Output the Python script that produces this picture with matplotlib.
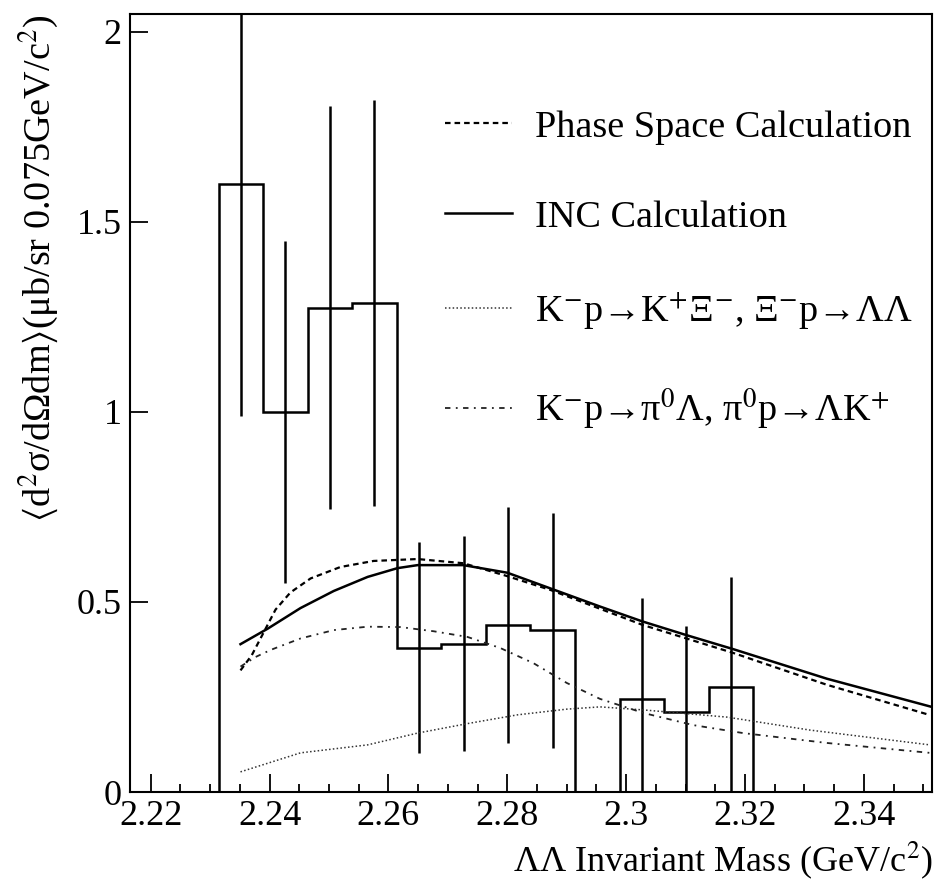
import matplotlib
matplotlib.use("Agg")
import matplotlib.pyplot as plt
from matplotlib.ticker import MultipleLocator, FuncFormatter

plt.rcParams['font.family'] = ['Liberation Serif', 'DejaVu Serif']
plt.rcParams['mathtext.fontset'] = 'stix'

# histogram bins (GeV/c^2), 0.0075 wide, zero below LL threshold
bin_edges = [2.2164, 2.2239, 2.2314, 2.2389, 2.2464, 2.2539, 2.2614, 2.2689,
             2.2764, 2.2839, 2.2914, 2.2989, 2.3064, 2.3139, 2.3214, 2.3289,
             2.3364, 2.3439, 2.3514]
bin_vals = [0, 0, 1.60, 1.00, 1.274, 1.287, 0.38, 0.39, 0.44, 0.425, 0,
            0.245, 0.21, 0.277, 0, 0, 0, 0]

# error bars
err_x = [2.23515, 2.24265, 2.25015, 2.25765, 2.26515, 2.27265, 2.28015,
         2.28765, 2.30265, 2.31015, 2.31765]
err_y = [1.60, 1.00, 1.274, 1.287, 0.38, 0.39, 0.44, 0.425, 0.245, 0.21, 0.277]
err_e = [0.61, 0.45, 0.53, 0.535, 0.277, 0.283, 0.31, 0.31, 0.265, 0.227, 0.29]

# INC calculation
inc_x = [2.2351, 2.2397, 2.2452, 2.2508, 2.2565, 2.2615, 2.2649, 2.2726,
         2.2800, 2.2872, 2.2956, 2.3027, 2.3101, 2.3180, 2.3338, 2.3514]
inc_y = [0.389, 0.430, 0.484, 0.529, 0.566, 0.589, 0.597, 0.597,
         0.577, 0.536, 0.488, 0.449, 0.413, 0.376, 0.298, 0.224]

# phase space calculation
ps_x = [2.2351, 2.2370, 2.2390, 2.2410, 2.2435, 2.2469, 2.2519, 2.2575,
        2.2649, 2.2726, 2.2800, 2.2872, 2.3027, 2.3180, 2.3338, 2.3510]
ps_y = [0.320, 0.360, 0.420, 0.480, 0.525, 0.562, 0.592, 0.608,
        0.613, 0.602, 0.568, 0.532, 0.440, 0.366, 0.282, 0.203]

# K-p -> K+ Xi-, Xi- p -> LL
xi_x = [2.2351, 2.2452, 2.2565, 2.2649, 2.2733, 2.2817, 2.2900, 2.2956,
        2.3029, 2.3170, 2.3309, 2.3511]
xi_y = [0.053, 0.103, 0.124, 0.155, 0.180, 0.203, 0.218, 0.224,
        0.216, 0.197, 0.163, 0.124]

# K-p -> pi0 L, pi0 p -> L K+
pi_x = [2.2351, 2.2376, 2.2402, 2.2452, 2.2508, 2.2565, 2.2620, 2.2676,
        2.2733, 2.2788, 2.2844, 2.2900, 2.2956, 2.3029, 2.3113, 2.3197,
        2.3338, 2.3511]
pi_y = [0.330, 0.355, 0.374, 0.404, 0.426, 0.435, 0.434, 0.423,
        0.408, 0.379, 0.339, 0.287, 0.245, 0.208, 0.176, 0.155,
        0.129, 0.103]

fig = plt.figure(figsize=(9.35, 8.8), dpi=100)
ax = fig.add_axes([0.139, 0.1, 0.858, 0.884])

ax.stairs(bin_vals, bin_edges, baseline=0, color='black', lw=1.8)
ax.errorbar(err_x, err_y, yerr=err_e, fmt='none', ecolor='black',
            elinewidth=1.8, capsize=0)

ax.plot(ps_x, ps_y, color='black', lw=1.6, linestyle=(0, (2.5, 1.8)),
        label='Phase Space Calculation')
ax.plot(inc_x, inc_y, color='black', lw=1.8, label='INC Calculation')
ax.plot(xi_x, xi_y, color='#333333', lw=1.1, linestyle=(0, (1, 1.5)),
        label='K$^{-}$p→K$^{+}$Ξ$^{-}$, Ξ$^{-}$p→ΛΛ')
ax.plot(pi_x, pi_y, color='#222222', lw=1.3, linestyle=(0, (3, 3, 1, 3)),
        label='K$^{-}$p→π$^{0}$Λ, π$^{0}$p→ΛK$^{+}$')

ax.set_xlim(2.2165, 2.3515)
ax.set_ylim(0, 2.047)

ax.xaxis.set_major_locator(MultipleLocator(0.02))
ax.xaxis.set_minor_locator(MultipleLocator(0.005))
ax.yaxis.set_major_locator(MultipleLocator(0.5))
fmt = FuncFormatter(lambda v, p: f"{v:g}")
ax.xaxis.set_major_formatter(fmt)
ax.yaxis.set_major_formatter(fmt)

ax.tick_params(which='both', direction='in', top=False, right=False,
               labelsize=26, width=1.3)
ax.tick_params(which='major', length=13, pad=6)
ax.tick_params(which='minor', length=6)
for s in ax.spines.values():
    s.set_linewidth(1.5)

ax.set_xlabel('ΛΛ Invariant Mass (GeV/c$^{2}$)', fontsize=26,
              loc='right', labelpad=4)
ax.set_ylabel(r'$\langle$d$^{2}$σ/dΩdm$\rangle$(μb/sr 0.075GeV/c$^{2}$)',
              fontsize=27.5, loc='top', labelpad=12)

ax.legend(loc='upper left', bbox_to_anchor=(0.393, 0.877), frameon=False,
          fontsize=27.5, handlelength=1.75, handletextpad=0.6,
          labelspacing=1.45, borderpad=0, borderaxespad=0)

fig.savefig("out.png", dpi=100)
